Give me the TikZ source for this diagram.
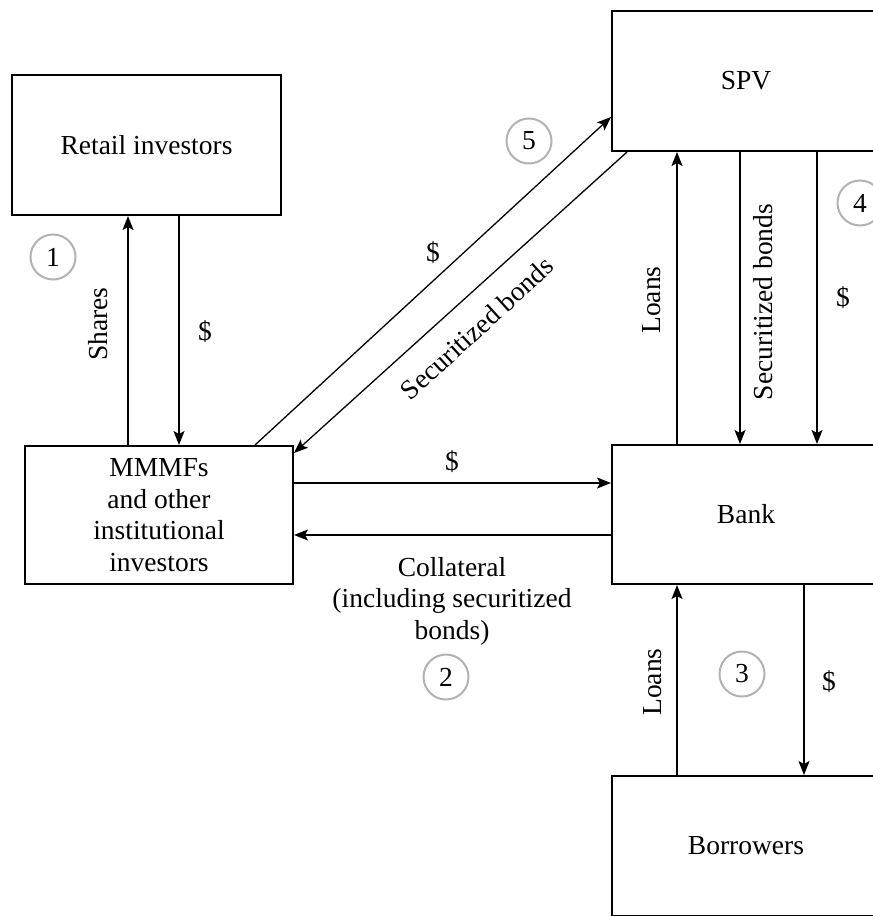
\documentclass[tikz,border=0pt]{standalone}
\usepackage{fontspec}
\setmainfont{Liberation Serif}
\usetikzlibrary{arrows.meta}
\begin{document}
\begin{tikzpicture}[x=1pt,y=-1pt,
  box/.style={draw, line width=2pt, minimum width=268pt, minimum height=140pt, inner sep=0pt, align=center, font=\fontsize{27.5}{31.5}\selectfont},
  flow/.style={line width=1.3pt, -{Stealth[length=14pt,width=11pt,inset=3pt]}},
  lbl/.style={font=\fontsize{27.5}{31.5}\selectfont, inner sep=0pt, align=center},
  num/.style={circle, draw=gray!60, line width=2pt, minimum size=45pt, inner sep=0pt, font=\fontsize{27.5}{31.5}\selectfont}]
\useasboundingbox (0,0) rectangle (873,916);
\clip (0,0) rectangle (873,916);
% boxes
\node[box, minimum width=269pt] (ret) at (146.5,145) {Retail investors};
\node[box, minimum height=138pt] (mm) at (159,515) {MMMFs\\and other\\institutional\\investors};
\node[box] (spv) at (746,81) {SPV};
\node[box, minimum height=139pt] (bank) at (746,514.5) {Bank};
\node[box] (bor) at (746,846) {Borrowers};
% helper coordinates
\coordinate (xa) at (128,0);
\coordinate (xb) at (179,0);
\coordinate (xc) at (677,0);
\coordinate (xd) at (740,0);
\coordinate (xe) at (817,0);
\coordinate (xf) at (804,0);
\coordinate (xg) at (255,0);
\coordinate (xh) at (627,0);
\coordinate (ya) at (0,483);
\coordinate (yb) at (0,535);
\coordinate (yc) at (0,117);
\coordinate (yd) at (0,453);
% connectors
\draw[flow] (mm.north -| xa) -- (ret.south -| xa);
\draw[flow] (ret.south -| xb) -- (mm.north -| xb);
\draw[flow] (mm.north -| xg) -- (spv.west |- yc);
\draw[flow] (spv.south -| xh) -- (mm.east |- yd);
\draw[flow] (mm.east |- ya) -- (bank.west |- ya);
\draw[flow] (bank.west |- yb) -- (mm.east |- yb);
\draw[flow] (bank.north -| xc) -- (spv.south -| xc);
\draw[flow] (spv.south -| xd) -- (bank.north -| xd);
\draw[flow] (spv.south -| xe) -- (bank.north -| xe);
\draw[flow] (bor.north -| xc) -- (bank.south -| xc);
\draw[flow] (bank.south -| xf) -- (bor.north -| xf);
% labels
\node[lbl, rotate=90] (lshares) at (98,324) {Shares};
\node[lbl] (ldol1) at (205,332) {\$};
\node[lbl] (ldol2) at (433,253) {\$};
\node[lbl, rotate=42.4] (lsec1) at (477,328) {Securitized bonds};
\node[lbl] (ldol3) at (452,462) {\$};
\node[lbl] (lcoll) at (452,601) {Collateral\\(including securitized\\bonds)};
\node[lbl, rotate=90] (lloans1) at (652,300) {Loans};
\node[lbl, rotate=90] (lsec2) at (763,302) {Securitized bonds};
\node[lbl] (ldol4) at (843,298) {\$};
\node[lbl, rotate=90] (lloans2) at (653,682) {Loans};
\node[lbl] (ldol5) at (829,682) {\$};
% step numbers
\node[num] (c1) at (53,257) {1};
\node[num] (c2) at (446,677) {2};
\node[num] (c3) at (742,674) {3};
\node[num] (c4) at (860,203) {4};
\node[num] (c5) at (529,141) {5};
\end{tikzpicture}
\end{document}
